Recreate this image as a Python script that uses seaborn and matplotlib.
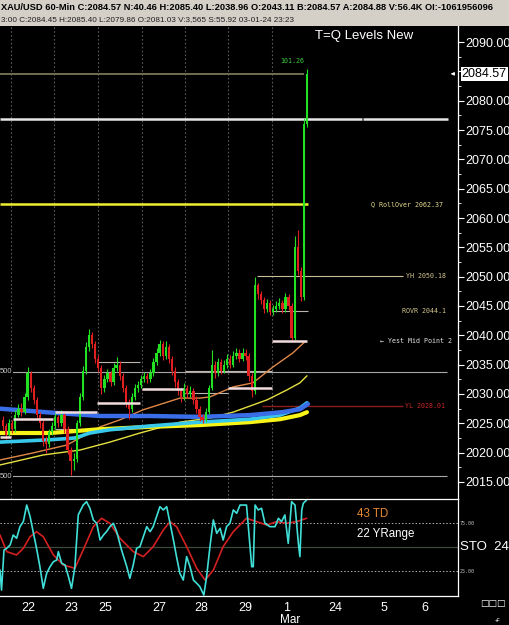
import matplotlib
matplotlib.use("Agg")
import matplotlib.pyplot as plt
import matplotlib.transforms as mtransforms
from matplotlib.patches import Rectangle
import seaborn as sns

# ---- hourly candles (bar index 1..100) ----
first_open = 2025.5
closes = [
    2024.5, 2023.0, 2025.0, 2024.0, 2026.5, 2027.5, 2027.0, 2029.5, 2033.5, 2031.0,
    2029.0, 2026.5, 2025.0, 2022.0, 2021.5, 2023.5, 2024.5, 2026.0, 2025.0, 2026.5,
    2024.0, 2020.5, 2018.5, 2019.0, 2025.0, 2029.5, 2034.0, 2038.0, 2040.0, 2038.5,
    2036.0, 2034.5, 2031.0, 2032.5, 2033.5, 2032.0, 2034.5, 2035.0, 2033.0, 2031.0,
    2028.5, 2027.5, 2029.5, 2031.0, 2031.5, 2032.5, 2033.0, 2032.5, 2033.5, 2035.5,
    2037.0, 2038.5, 2036.5, 2038.0, 2036.0, 2034.0, 2032.0, 2030.5, 2029.5, 2031.0,
    2030.0, 2030.5, 2029.0, 2027.5, 2026.0, 2025.5, 2027.0, 2031.0, 2035.0, 2033.5,
    2035.5, 2034.0, 2035.0, 2036.0, 2035.0, 2036.5, 2037.0, 2036.0, 2037.0, 2036.5,
    2033.0, 2030.5, 2048.5, 2047.0, 2046.0, 2044.5, 2045.5, 2044.0, 2044.5, 2045.0,
    2045.5, 2044.5, 2046.5, 2045.0, 2039.5, 2055.0, 2051.0, 2046.5, 2076.0, 2084.57]
highs = [
    2026.3, 2025.0, 2025.8, 2025.6, 2027.2, 2028.3, 2028.4, 2030.2, 2034.6, 2034.0,
    2031.6, 2029.5, 2027.0, 2025.5, 2022.8, 2024.0, 2025.3, 2026.8, 2026.5, 2027.2,
    2027.0, 2024.5, 2021.0, 2020.0, 2025.6, 2030.2, 2034.8, 2038.8, 2041.0, 2040.6,
    2039.0, 2036.6, 2035.0, 2033.2, 2034.3, 2034.0, 2035.2, 2036.3, 2035.6, 2033.5,
    2031.5, 2029.2, 2030.2, 2031.7, 2032.3, 2033.2, 2033.8, 2033.6, 2034.2, 2036.2,
    2037.8, 2039.2, 2039.0, 2039.0, 2038.6, 2036.5, 2034.6, 2032.6, 2031.0, 2031.8,
    2031.6, 2031.3, 2031.0, 2029.6, 2028.0, 2026.6, 2027.6, 2031.6, 2037.5, 2035.6,
    2036.2, 2036.0, 2035.8, 2036.8, 2036.6, 2037.3, 2037.8, 2037.6, 2037.8, 2037.6,
    2037.0, 2033.5, 2050.0, 2049.0, 2047.6, 2046.6, 2046.2, 2046.0, 2045.2, 2045.8,
    2046.3, 2046.0, 2047.3, 2047.0, 2045.5, 2057.0, 2058.0, 2051.6, 2077.0, 2085.4]
lows = [
    2023.8, 2022.3, 2022.6, 2023.4, 2023.6, 2026.0, 2026.3, 2026.6, 2029.0, 2030.4,
    2028.3, 2025.8, 2024.2, 2021.2, 2020.0, 2021.0, 2023.0, 2024.0, 2024.3, 2024.6,
    2023.3, 2019.8, 2016.2, 2017.0, 2018.4, 2024.6, 2029.0, 2033.4, 2037.4, 2037.8,
    2035.2, 2033.8, 2030.0, 2030.4, 2032.0, 2031.4, 2031.6, 2034.0, 2032.4, 2030.3,
    2027.8, 2025.8, 2027.0, 2029.0, 2030.4, 2031.0, 2032.0, 2031.8, 2032.0, 2033.0,
    2035.0, 2036.5, 2035.8, 2036.0, 2035.3, 2033.3, 2031.2, 2029.8, 2028.6, 2029.0,
    2029.3, 2029.5, 2028.3, 2026.8, 2025.4, 2025.1, 2025.2, 2026.6, 2030.6, 2032.8,
    2033.0, 2033.4, 2033.5, 2034.5, 2034.4, 2034.6, 2036.0, 2035.4, 2035.6, 2035.8,
    2032.3, 2029.5, 2030.0, 2046.2, 2045.3, 2043.8, 2044.0, 2043.4, 2043.5, 2044.0,
    2044.5, 2043.8, 2044.0, 2044.3, 2039.0, 2039.2, 2050.3, 2045.8, 2046.0, 2075.5]
bars = list(range(1, len(closes) + 1))

# ---- moving averages ----
blue_x = [0, 17.3, 32.6, 48.9, 65.1, 81.4, 92.0, 97.7, 100.3]
blue_y = [2027.5, 2026.8, 2026.25, 2026.25, 2026.1, 2026.4, 2026.9, 2027.4, 2028.3]
cyan_x = [0, 16.3, 24.4, 29.3, 35.8, 48.9, 65.1, 81.4, 91.2, 97.7, 100.0]
cyan_y = [2021.8, 2022.2, 2022.5, 2023.35, 2023.9, 2024.55, 2025.2, 2025.7, 2026.4, 2027.6, 2028.5]
yel_x = [0, 16.3, 32.6, 48.9, 65.1, 81.4, 91.2, 97.7, 100.0]
yel_y = [2023.35, 2023.35, 2024.0, 2024.4, 2024.7, 2025.2, 2025.7, 2026.4, 2026.9]
thin_x = [0, 14.0, 26.1, 35.8, 45.6, 58.6, 68.4, 75.9, 87.0, 93.5, 97.7, 100.0]
thin_y = [2017.9, 2019.6, 2020.45, 2021.8, 2023.35, 2025.2, 2025.9, 2026.9, 2029.0, 2030.7, 2031.9, 2033.1]
orng_x = [0, 10.7, 21.8, 32.6, 39.1, 46.6, 54.4, 58.6, 65.1, 68.4, 75.9, 82.4, 88.9, 95.4, 99.3]
orng_y = [2018.75, 2019.95, 2021.3, 2024.4, 2025.6, 2027.3, 2028.6, 2029.3, 2029.3, 2029.5,
          2031.2, 2031.9, 2034.6, 2037.0, 2038.9]

# ---- level lines ----
low_lvl = [2022.7, 2025.75, 2026.9, 2028.5, 2030.9, 2031.0, 2039.0]
low_from = [0.0, 4.2, 17.9, 31.6, 46.3, 74.3, 88.6]
low_to = [3.6, 17.3, 31.6, 45.6, 59.6, 88.6, 100.0]
high_lvl = [2024.0, 2035.45, 2030.2, 2033.9, 2044.1]
high_from = [17.9, 31.6, 60.3, 60.3, 88.6]
high_to = [31.6, 45.6, 74.3, 88.6, 100.3]
spike_high = 2084.57
upper_lvl = 2076.9
rollover = 2062.37
yest_high = 2050.18
yest_low = 2028.01
grey_lvls = [2033.75, 2016.0]

# ---- stochastic ----
k_x = [0, 0.5, 1.3, 2.2, 3.3, 4.3, 5.4, 6.5, 7.6, 8.7, 9.8, 10.9, 11.9, 13.0, 14.1, 15.2,
       16.3, 17.4, 18.5, 19.0, 20.1, 21.2, 22.3, 23.3, 24.4, 25.5, 27.1, 28.2, 29.3, 30.4,
       31.5, 32.6, 33.7, 34.7, 35.8, 36.9, 38.0, 39.6, 41.3, 42.3, 43.4, 44.5, 45.6, 46.7,
       47.8, 48.9, 49.9, 51.0, 52.1, 53.2, 54.3, 55.4, 56.5, 57.5, 58.6, 59.7, 60.8, 61.9,
       63.0, 64.1, 65.1, 66.4, 67.3, 68.4, 69.5, 70.6, 71.7, 72.7, 73.8, 74.9, 76.0, 77.1,
       78.2, 80.3, 80.9, 82.0, 82.5, 83.1, 84.1, 85.2, 86.3, 87.9, 89.6, 90.7, 91.7, 92.8,
       93.9, 95.0, 96.1, 97.2, 97.7, 98.3, 98.8, 99.9]
k_y = [26.4, 5.5, 47.2, 49, 52.4, 62.8, 59.4, 71.5, 76.7, 94, 82, 64.6, 49, 29.8, 7.3, 22.9,
       29.8, 35, 36.8, 45.5, 33.3, 31.6, 19.4, 7.3, 29.8, 83.7, 94, 97.5, 90.6, 78.5,
       75, 57.6, 62.8, 66.3, 71.5, 75, 66.3, 47.2, 29.8, 17.7, 31.6, 49, 50.7, 61.1,
       71.5, 66.3, 71.5, 82, 92.3, 88.9, 92.3, 75, 57.6, 40.3, 22.9, 15.9, 40.3, 29.8,
       15.9, 12.5, 9, 0.3, 19.4, 50.7, 78.5, 64.6, 69.8, 57.6, 71.5, 75, 88.9, 85.4,
       94, 94, 71.5, 29.8, 29.8, 94, 88.9, 90.6, 75, 71.5, 71.5, 80.2, 76.7, 83.7,
       54.1, 97.5, 94, 54.1, 40.3, 88.9, 95.8, 99.3]
d_x = [0, 2.2, 5.4, 7.6, 9.8, 11.9, 14.1, 17.4, 20.6, 24.4, 27.1, 30.4, 33.1, 35.8, 39.1,
       43.4, 46.7, 49.9, 53.2, 55.4, 57.5, 60.8, 64.1, 66.8, 69.5, 72.7, 76.0, 80.3, 83.6,
       86.9, 90.1, 93.4, 96.6, 99.9]
d_y = [62.8, 45.5, 42, 49, 61, 66.3, 61, 42, 31.6, 28.1, 47.2, 71.5, 80.2, 75, 59.4,
       45.5, 40.3, 50.7, 68, 76.7, 71.5, 50.7, 28.1, 15.9, 26.3, 50.7, 66.3, 80.2, 76.7,
       73.2, 76.7, 75, 76.7, 80.2]

# ---- time axis ----
grid_x = [3.6, 17.6, 31.9, 46.3, 60.3, 74.3, 88.6]
date_x = [7.1, 20.8, 31.9, 49.5, 63.2, 77.5, 92.2, 106.8, 123.8, 137.4]
date_lbl = ["22", "23", "25", "27", "28", "29", "1", "24", "5", "6"]
price_ticks = list(range(2015, 2091, 5))

header1 = ("XAU/USD 60-Min C:2084.57 N:40.46 H:2085.40 L:2038.96 O:2043.11 "
           "B:2084.57 A:2084.88 V:56.4K OI:-1061956096")
header2 = "3:00 C:2084.45 H:2085.40 L:2079.86 O:2081.03 V:3,565 S:55.92 03-01-24 23:23"

sns.set_style("dark", {"axes.facecolor": "black", "figure.facecolor": "black"})
plt.rcParams["font.family"] = ["Liberation Sans", "DejaVu Sans"]
mono = "DejaVu Sans Mono"

fig = plt.figure(figsize=(5.09, 6.25), dpi=100, facecolor="black")
ax = fig.add_axes([0, 0.2016, 0.8998, 0.7568])
axs = fig.add_axes([0, 0.0464, 0.8998, 0.1552], sharex=ax)

# header bars
fig.patches.append(Rectangle((0, 0.9584), 1, 0.0416, transform=fig.transFigure,
                             facecolor="#d4d0c8", edgecolor="none", zorder=0))
fig.text(0.002, 0.9888, header1, fontsize=6.7, fontweight="bold", color="black",
         va="center", ha="left")
fig.text(0.002, 0.968, header2, fontsize=5.9, color="#202020", va="center", ha="left")

# ---- main price panel ----
ax.set_xlim(0, 149.2)
ax.set_ylim(2012.1, 2092.73)
for gx in grid_x:
    ax.axvline(gx, color="#5a5a5a", lw=0.8, ls=(0, (1.5, 2)), zorder=1)

ax.hlines(grey_lvls, 0, 145.6, color="#a8a8a8", lw=0.8, zorder=2)
ax.hlines(spike_high, 0, 99.0, color="#77775a", lw=1.3, zorder=2)
ax.hlines(upper_lvl, 0, 117.8, color="#e6e6e6", lw=1.8, zorder=2)
ax.hlines(upper_lvl, 118.4, 146.0, color="#e6e6e6", lw=1.8, zorder=2)
ax.hlines(rollover, 0, 100.3, color="#eeee30", lw=1.8, zorder=2)
ax.hlines(yest_high, 83.7, 131.3, color="#c8c098", lw=0.8, zorder=2)
ax.hlines(yest_low, 85.3, 131.3, color="#8a1c1c", lw=1.0, zorder=2)
ax.hlines(high_lvl, high_from, high_to, color="#bdb5ad", lw=0.8, zorder=2)
ax.hlines(low_lvl, low_from, low_to, color="#f2dcdc", lw=1.8, zorder=5)

for xs, ys, col, w in [(thin_x, thin_y, "#e6e040", 1.0), (orng_x, orng_y, "#e08848", 1.0),
                       (yel_x, yel_y, "#f8f418", 3.0), (cyan_x, cyan_y, "#38c8ec", 2.6),
                       (blue_x, blue_y, "#3a6ee8", 3.2)]:
    sns.lineplot(x=xs, y=ys, ax=ax, color=col, lw=w, estimator=None, sort=False, zorder=3)

opens = [first_open] + closes[:-1]
cols = ["#22e022" if c >= o else "#e02020" for o, c in zip(opens, closes)]
ax.vlines(bars, lows, highs, colors=cols, lw=0.8, zorder=4)
ax.bar(bars, [c - o for o, c in zip(opens, closes)], bottom=opens, width=0.75,
       color=cols, linewidth=0, zorder=4)

lbl = mtransforms.blended_transform_factory(ax.transAxes, ax.transData)
ax.text(0.688, 0.979, "T=Q Levels New", transform=ax.transAxes, color="white",
        fontsize=9.5, ha="left", va="center")
ax.text(0.637, 2086.8, "101.26", transform=lbl, color="#40cc40", fontsize=4.8,
        family=mono, ha="center", va="center")
ax.text(0.967, rollover, "Q RollOver 2062.37", transform=lbl, color="#e4dc8c",
        fontsize=4.8, family=mono, ha="right", va="center")
ax.text(0.974, yest_high, "YH 2050.18", transform=lbl, color="#d4c890",
        fontsize=4.8, family=mono, ha="right", va="center")
ax.text(0.974, 2044.1, "ROVR 2044.1", transform=lbl, color="#d4c890",
        fontsize=4.8, family=mono, ha="right", va="center")
ax.text(0.829, 2039.0, "\u2190 Yest Mid Point 2", transform=lbl, color="#e4e4e4",
        fontsize=4.8, family=mono, ha="left", va="center")
ax.text(0.972, yest_low, "YL 2028.01", transform=lbl, color="#cc2828",
        fontsize=4.8, family=mono, ha="right", va="center")
for g in grey_lvls:
    ax.text(0.0, g, "500", transform=lbl, color="#c8c8c8", fontsize=5.5, ha="left",
            va="center", bbox=dict(facecolor="black", edgecolor="none", pad=0.3), zorder=6)

ax.yaxis.tick_right()
ax.set_yticks(price_ticks)
ax.set_yticklabels(["" if v == 2085 else f"{v:.2f}" for v in price_ticks])
ax.set_yticks([v + 2.5 for v in price_ticks[:-1]], minor=True)
ax.tick_params(axis="y", which="major", colors="white", labelsize=9, length=4, width=0.8,
               pad=1, direction="out", right=True, left=False)
ax.tick_params(axis="y", which="minor", colors="white", length=2, width=0.6,
               direction="out", right=True, left=False)
ax.tick_params(axis="x", bottom=False, labelbottom=False)
ax.text(1.008, spike_high, "2084.57", transform=lbl, color="black", fontsize=9,
        ha="left", va="center", clip_on=False, zorder=10,
        bbox=dict(facecolor="white", edgecolor="none", pad=0.8))
ax.annotate("", xy=(0.978, spike_high), xytext=(0.999, spike_high), xycoords=lbl,
            textcoords=lbl, arrowprops=dict(arrowstyle="-|>", color="white", lw=0.6,
                                            mutation_scale=5))
for s in ["top", "left", "bottom"]:
    ax.spines[s].set_visible(False)
ax.spines["right"].set_color("white")
ax.spines["right"].set_linewidth(0.9)
ax.grid(False)
ax.set_xlabel("")
ax.set_ylabel("")

# ---- stochastic panel ----
st = mtransforms.blended_transform_factory(axs.transAxes, axs.transData)
axs.set_ylim(-0.7, 100.3)
axs.axhline(75, color="#b0b0b0", lw=0.7, ls=(0, (1.5, 2)))
axs.axhline(25, color="#b0b0b0", lw=0.7, ls=(0, (1.5, 2)))
axs.axhline(50, color="#3c4c3c", lw=0.9)
sns.lineplot(x=d_x, y=d_y, ax=axs, color="#d42020", lw=1.2, estimator=None, sort=False)
sns.lineplot(x=k_x, y=k_y, ax=axs, color="#40e0d8", lw=1.2, estimator=None, sort=False)
axs.text(0.7795, 84.7, "43 TD", transform=st, color="#e88830", fontsize=8.3,
         ha="left", va="center")
axs.text(0.7795, 63.9, "22 YRange", transform=st, color="white", fontsize=8.3,
         ha="left", va="center")
axs.text(1.005, 50, "STO  24", transform=st, color="white", fontsize=9.5, ha="left",
         va="center", clip_on=False)
axs.text(1.003, 75, "75.00", transform=st, color="#c0c0c0", fontsize=3.6, family=mono,
         ha="left", va="center", clip_on=False)
axs.text(1.003, 25, "25.00", transform=st, color="#c0c0c0", fontsize=3.6, family=mono,
         ha="left", va="center", clip_on=False)
axs.set_xticks(date_x)
axs.set_xticklabels(date_lbl, ha="left")
axs.tick_params(axis="x", colors="white", labelsize=9, length=3, width=0.8, pad=1,
                direction="out")
axs.tick_params(axis="y", left=False, right=False, labelleft=False)
axs.text(92.2 + 2.3, -0.25, "Mar", transform=mtransforms.blended_transform_factory(
    axs.transData, axs.transAxes), color="white", fontsize=8.5, ha="center", va="center",
    clip_on=False)
for s in ["top", "right", "bottom"]:
    axs.spines[s].set_color("white")
    axs.spines[s].set_linewidth(0.9)
axs.spines["left"].set_visible(False)
axs.grid(False)
axs.set_xlabel("")
axs.set_ylabel("")

fig.text(0.943, 0.035, "\u25a1\u25a1\u25a1", color="white", fontsize=6.5, family="DejaVu Sans",
         ha="left", va="center")
fig.text(0.972, 0.008, "+F", color="white", fontsize=3.5, ha="left", va="center")

fig.savefig("out.png", dpi=100, facecolor="black")
